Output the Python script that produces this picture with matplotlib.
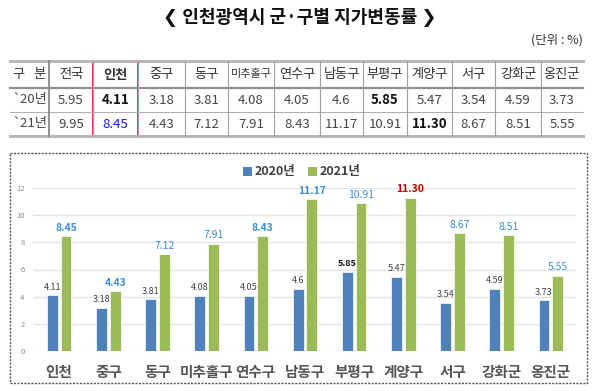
import matplotlib
matplotlib.use("Agg")
import matplotlib.pyplot as plt
from matplotlib.patches import Rectangle, Patch
import numpy as np

plt.rcParams['font.family'] = ['Noto Sans CJK KR', 'DejaVu Sans']

# ---------------- data ----------------
regions = ['인천', '중구', '동구', '미추홀구', '연수구', '남동구', '부평구', '계양구', '서구', '강화군', '옹진군']
v2020 = [4.11, 3.18, 3.81, 4.08, 4.05, 4.6, 5.85, 5.47, 3.54, 4.59, 3.73]
v2021 = [8.45, 4.43, 7.12, 7.91, 8.43, 11.17, 10.91, 11.30, 8.67, 8.51, 5.55]
lab2020 = ['4.11', '3.18', '3.81', '4.08', '4.05', '4.6', '5.85', '5.47', '3.54', '4.59', '3.73']
lab2021 = ['8.45', '4.43', '7.12', '7.91', '8.43', '11.17', '10.91', '11.30', '8.67', '8.51', '5.55']

table_header = ['구   분', '전국'] + regions
table_row20 = ['`20년', '5.95'] + lab2020
table_row21 = ['`21년', '9.95'] + lab2021
series_names = ['2020년', '2021년']
yticks = [0, 2, 4, 6, 8, 10, 12]

title = '❮ 인천광역시 군·구별 지가변동률 ❯'
unit = '(단위 : %)'

# ---------------- figure ----------------
W, H = 600, 391
fig = plt.figure(figsize=(W / 100, H / 100), dpi=100)
fig.patch.set_facecolor('white')

ax0 = fig.add_axes([0, 0, 1, 1])
ax0.set_xlim(0, W)
ax0.set_ylim(H, 0)
ax0.axis('off')

ax0.text(300, 17, title, ha='center', va='center', fontsize=13, fontweight='bold', color='#111111')
ax0.text(583, 40, unit, ha='right', va='center', fontsize=9, color='#333333')

# table
col_edges = [10, 49, 93, 138, 185, 228, 274, 320, 363, 407, 452, 495, 541, 583]
row_edges = [61, 88, 112, 136]
line_c = '#A0A0A0'
ax0.plot([col_edges[0], col_edges[-1]], [row_edges[0], row_edges[0]], color='#B8B8B8', lw=2.2)
ax0.plot([col_edges[0], col_edges[-1]], [row_edges[1], row_edges[1]], color='#909090', lw=1.6)
ax0.plot([col_edges[0], col_edges[-1]], [row_edges[2], row_edges[2]], color='#B0B0B0', lw=0.8)
ax0.plot([col_edges[0], col_edges[-1]], [row_edges[3], row_edges[3]], color='#B8B8B8', lw=2.2)
for i, xe in enumerate(col_edges[1:-1]):
    ax0.plot([xe, xe], [row_edges[0], row_edges[3]], color='#909090' if i == 0 else line_c,
             lw=1.4 if i == 0 else 0.8)

row_centers = [(row_edges[i] + row_edges[i + 1]) / 2 for i in range(3)]
col_centers = [(col_edges[i] + col_edges[i + 1]) / 2 for i in range(len(col_edges) - 1)]
for j, (h, a, b) in enumerate(zip(table_header, table_row20, table_row21)):
    cx = col_centers[j]
    fs_h = 8 if len(h) >= 4 and j > 0 else 9.5
    ax0.text(cx, row_centers[0], h, ha='center', va='center', fontsize=fs_h,
             fontweight='bold' if h == '인천' else 'normal', color='#333333')
    w_a = 'bold' if a in ('4.11', '5.85') else 'normal'
    ax0.text(cx, row_centers[1], a, ha='center', va='center', fontsize=9.5, fontweight=w_a,
             color='#111111' if w_a == 'bold' else '#444444')
    if b == '8.45':
        ax0.text(cx, row_centers[2], b, ha='center', va='center', fontsize=9.5, color='#1A1AE6')
    else:
        w_b = 'bold' if b == '11.30' else 'normal'
        ax0.text(cx, row_centers[2], b, ha='center', va='center', fontsize=9.5, fontweight=w_b,
                 color='#111111' if w_b == 'bold' else '#444444')

# pink highlight box around 인천 column
ax0.add_patch(Rectangle((col_edges[2], row_edges[0]), col_edges[3] - col_edges[2],
                        row_edges[3] - row_edges[0] + 1, fill=False, edgecolor='#E8336B', lw=1.5))

# dashed chart border
ax0.add_patch(Rectangle((10, 153), 577, 230, fill=False, edgecolor='#555555', lw=1.0,
                        linestyle=(0, (1.5, 1))))

# ---------------- bar chart ----------------
ax = fig.add_axes([33 / W, (H - 351) / H, 543 / W, 163 / H])
ax.patch.set_alpha(0)
x = np.arange(len(regions))
bw = 0.22
off = 0.14
ax.bar(x - off, v2020, bw, color='#4F81BD', edgecolor='white', linewidth=0.5, zorder=2)
ax.bar(x + off, v2021, bw, color='#9BBB59', edgecolor='white', linewidth=0.5, zorder=2)
ax.set_xlim(-0.53, 10.51)
ax.set_ylim(0, 12)
ax.set_yticks(yticks)
ax.yaxis.grid(True, color='#E4E4E4', lw=1)
ax.set_axisbelow(True)
for s in ax.spines.values():
    s.set_visible(False)
ax.tick_params(axis='both', length=0)
ax.tick_params(axis='y', labelsize=5.5, labelcolor='#8C8C8C', pad=6)
ax.set_xticks(x)
ax.set_xticklabels(regions, fontsize=10.5, fontweight='bold', color='#555555')
ax.tick_params(axis='x', pad=9)

for xi, v, lab in zip(x, v2020, lab2020):
    bold = lab == '5.85'
    ax.text(xi - off, v + 0.6, lab, ha='center', va='center', fontsize=6.5,
            fontweight='bold' if bold else 'normal', color='#111111' if bold else '#404040',
            clip_on=False)
for xi, v, lab in zip(x, v2021, lab2021):
    red = lab == '11.30'
    ax.text(xi + off, v + 0.6, lab, ha='center', va='center', fontsize=7.5,
            fontweight='bold' if red or lab in ('8.45', '4.43', '11.17', '8.43') else 'normal',
            color='#C00000' if red else '#3B8ED6', clip_on=False)

handles = [Patch(facecolor='#4F81BD', edgecolor='none'), Patch(facecolor='#9BBB59', edgecolor='none')]
leg = ax.legend(handles, series_names, ncol=2, loc='center', bbox_to_anchor=(302 / W, 1 - 172 / H),
                bbox_transform=fig.transFigure, frameon=False, handlelength=0.7, handleheight=0.7,
                handletextpad=0.25, columnspacing=1.0, prop={'size': 9, 'weight': 'bold'})
for t in leg.get_texts():
    t.set_color('#404040')

fig.savefig('out.png', dpi=100)
